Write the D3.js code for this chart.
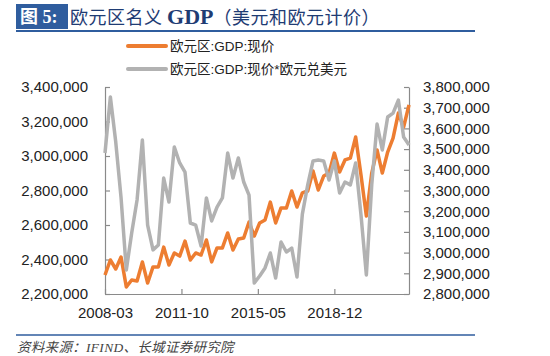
<!DOCTYPE html>
<html><head><meta charset="utf-8">
<script src="https://cdn.jsdelivr.net/npm/d3@7"></script>
<style>
html,body{margin:0;padding:0;background:#fff;}
svg{display:block;}
</style></head>
<body><svg id="c" width="550" height="356"></svg>
<script>
const quarters = ["2008-03","2008-06","2008-09","2008-12","2009-03","2009-06","2009-09","2009-12",
"2010-03","2010-06","2010-09","2010-12","2011-03","2011-06","2011-09","2011-12",
"2012-03","2012-06","2012-09","2012-12","2013-03","2013-06","2013-09","2013-12",
"2014-03","2014-06","2014-09","2014-12","2015-03","2015-06","2015-09","2015-12",
"2016-03","2016-06","2016-09","2016-12","2017-03","2017-06","2017-09","2017-12",
"2018-03","2018-06","2018-09","2018-12","2019-03","2019-06","2019-09","2019-12",
"2020-03","2020-06","2020-09","2020-12","2021-03","2021-06","2021-09","2021-12",
"2022-03","2022-06"];
const gdpEur = [2310000,2397000,2345000,2414000,2241000,2281000,2275000,2386000,
2264000,2357000,2357000,2472000,2368000,2438000,2420000,2507000,
2397000,2438000,2426000,2513000,2386000,2467000,2467000,2554000,
2455000,2519000,2525000,2617000,2536000,2612000,2629000,2733000,
2612000,2699000,2699000,2797000,2704000,2786000,2797000,2913000,
2803000,2884000,2901000,3017000,2907000,2977000,2988000,3110000,
2890000,2652000,2901000,3035000,2901000,3023000,3104000,3249000,
3168000,3296000];
const gdpUsd = [3481000,3752000,3534000,3264000,2916000,3095000,3254000,3544000,
3133000,3013000,3037000,3360000,3244000,3510000,3433000,3389000,
3143000,3133000,3032000,3264000,3153000,3220000,3264000,3481000,
3360000,3457000,3341000,3278000,2853000,2887000,2926000,2998000,
2877000,3051000,3003000,3022000,2882000,3186000,3327000,3443000,
3447000,3443000,3351000,3443000,3288000,3341000,3327000,3433000,
3182000,2892000,3327000,3621000,3496000,3655000,3674000,3737000,
3558000,3520000];
const xTickLabels = ["2008-03","2011-10","2015-05","2018-12"];
const leftTicks = [2200000,2400000,2600000,2800000,3000000,3200000,3400000];
const rightTicks = [2800000,2900000,3000000,3100000,3200000,3300000,3400000,3500000,3600000,3700000,3800000];
const seriesNames = ["欧元区:GDP:现价","欧元区:GDP:现价*欧元兑美元"];

const parse = d3.timeParse("%Y-%m");
const svg = d3.select("#c");
const L = 105, R = 409, T = 87, B = 294;
const axisColor = "#8a8a8a";
const orange = "#ED7D31", gray = "#B2B2B2";
const latin = "'Liberation Sans', Arial, 'Noto Sans CJK SC', sans-serif";

const x = d3.scaleTime().domain([parse(quarters[0]), parse(quarters[quarters.length-1])]).range([L, R]);
const yL = d3.scaleLinear().domain([2200000, 3400000]).range([B, T]);
const yR = d3.scaleLinear().domain([2800000, 3800000]).range([B, T]);
const fmt = d3.format(",");

// Title
svg.append("rect").attr("x",16).attr("y",4).attr("width",52).attr("height",25).attr("fill","#2F5D9E");
svg.append("text").attr("x",20).attr("y",23).attr("fill","#fff")
  .attr("font-family","'Liberation Serif','Noto Sans CJK SC',serif").attr("font-weight","bold")
  .attr("font-size",18).text("图 5:");
const tt = svg.append("text").attr("x",70).attr("y",24).attr("fill","#1F3C74")
  .attr("font-family","'Noto Sans CJK SC',sans-serif").attr("font-size",18);
tt.append("tspan").attr("letter-spacing",0.5).text("欧元区名义 ");
tt.append("tspan").attr("font-family","'Liberation Serif',serif").attr("font-weight","bold").attr("font-size",22).text("GDP");
tt.append("tspan").attr("letter-spacing",0.5).text("（美元和欧元计价）");
svg.append("line").attr("x1",16).attr("x2",475).attr("y1",31).attr("y2",31).attr("stroke","#2F5D9E").attr("stroke-width",2);

// Legend
const lg = [{c:orange, y:46, t:seriesNames[0]},{c:gray, y:69, t:seriesNames[1]}];
lg.forEach(d=>{
  svg.append("line").attr("x1",128).attr("x2",166).attr("y1",d.y).attr("y2",d.y)
    .attr("stroke",d.c).attr("stroke-width",4).attr("stroke-linecap","round");
  svg.append("text").attr("x",170).attr("y",d.y+5).attr("font-family",latin).attr("font-size",13.5)
    .attr("fill","#222").text(d.t);
});

// Axes
function styleAxis(g){
  g.selectAll("path,line").attr("stroke",axisColor).attr("stroke-width",1.2);
  g.selectAll("text").attr("font-family",latin).attr("font-size",15).attr("fill","#222");
}
const gL = svg.append("g").attr("transform",`translate(${L},0)`)
  .call(d3.axisLeft(yL).tickValues(leftTicks).tickFormat(fmt).tickSizeInner(-5).tickSizeOuter(0).tickPadding(17));
styleAxis(gL);
const gR = svg.append("g").attr("transform",`translate(${R},0)`)
  .call(d3.axisRight(yR).tickValues(rightTicks).tickFormat(fmt).tickSizeInner(-5).tickSizeOuter(0).tickPadding(14));
styleAxis(gR);
const gB = svg.append("g").attr("transform",`translate(0,${B})`)
  .call(d3.axisBottom(x).tickValues(xTickLabels.map(parse)).tickFormat(d3.timeFormat("%Y-%m")).tickSizeInner(-5).tickSizeOuter(0).tickPadding(13));
styleAxis(gB);

// Lines
const lineL = d3.line().x((d,i)=>x(parse(quarters[i]))).y(d=>yL(d));
const lineR = d3.line().x((d,i)=>x(parse(quarters[i]))).y(d=>yR(d));
svg.append("path").datum(gdpEur).attr("d",lineL).attr("fill","none").attr("stroke",orange)
  .attr("stroke-width",3.5).attr("stroke-linejoin","round");
svg.append("path").datum(gdpUsd).attr("d",lineR).attr("fill","none").attr("stroke",gray)
  .attr("stroke-width",3.5).attr("stroke-linejoin","round");

// Source
svg.append("line").attr("x1",16).attr("x2",475).attr("y1",335).attr("y2",335).attr("stroke","#2F5D9E").attr("stroke-width",1.5);
svg.append("text").attr("x",17).attr("y",352).attr("fill","#444").attr("font-style","italic")
  .attr("font-family","'Liberation Serif','Noto Sans CJK SC',serif").attr("font-size",13.5)
  .attr("letter-spacing",0.3)
  .text("资料来源：IFIND、长城证券研究院");
</script></body></html>
